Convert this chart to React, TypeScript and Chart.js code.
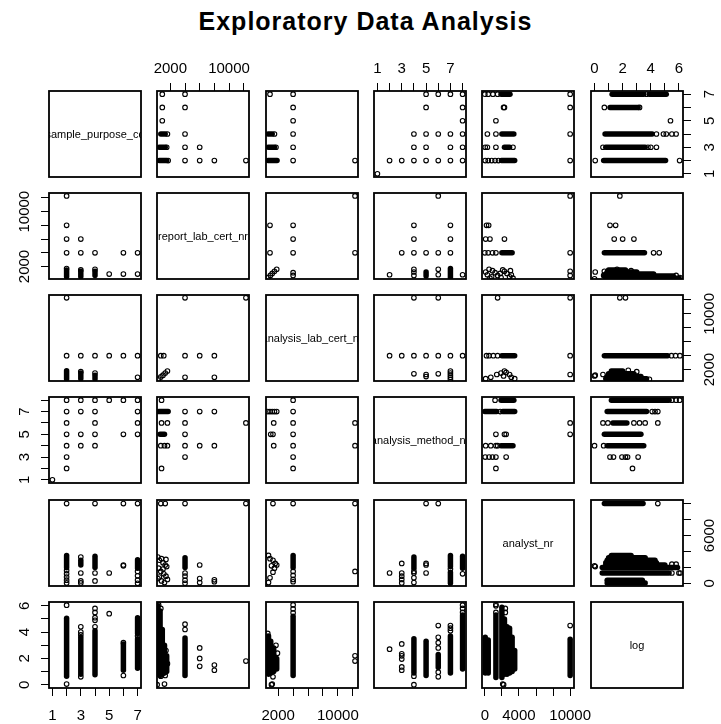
import React, { useEffect, useRef } from 'react';
import { Chart, registerables } from 'chart.js';

Chart.register(...registerables);

const FONT = '"Liberation Sans", Arial, Helvetica, sans-serif';
Chart.defaults.font.family = FONT;

// ---------- variables ----------
const VAR_NAMES = [
  'sample_purpose_cd',
  'report_lab_cert_nr',
  'analysis_lab_cert_nr',
  'analysis_method_nr',
  'analyst_nr',
  'log',
];
const AXIS_MIN = [0.76, 180, 365, 0.72, -330, -0.25];
const AXIS_MAX = [7.24, 12720, 12700, 8.28, 10450, 6.29];
const TICKS = [
  [1, 2, 3, 4, 5, 6, 7],
  [2000, 4000, 6000, 8000, 10000, 12000],
  [2000, 4000, 6000, 8000, 10000, 12000],
  [1, 2, 3, 4, 5, 6, 7, 8],
  [0, 2000, 4000, 6000, 8000, 10000],
  [0, 1, 2, 3, 4, 5, 6],
];
// labels shown on the column (x) axes and on the row (y) axes
const X_LABELS = [[1, 3, 5, 7], [2000, 10000], [2000, 10000], [1, 3, 5, 7], [0, 4000, 10000], [0, 2, 4, 6]];
const Y_LABELS = [[1, 3, 5, 7], [2000, 10000], [2000, 10000], [1, 3, 5, 7], [0, 6000], [0, 2, 4, 6]];

type P = [number, number];
type S = [P, P];

// ---------- pair data: [value of first var, value of second var] ----------
// sample_purpose_cd vs report_lab_cert_nr
const pts12: P[] = [[2, 12300], [2, 8000], [2, 6000], [2, 4000], [3, 6000], [3, 4000], [4, 4000], [5, 900], [6, 4000], [6, 900], [7, 4000], [7, 900], [2, 1700], [3, 1500], [4, 1600]];
const seg12: S[] = [[[2, 500], [2, 1500]], [[3, 500], [3, 1300]], [[4, 700], [4, 1300]]];

// sample_purpose_cd vs analysis_lab_cert_nr
const pts13: P[] = [[2, 12300], [2, 4000], [3, 4000], [4, 4000], [5, 4000], [6, 4000], [7, 4000], [7, 900], [4, 1500], [3, 1700]];
const seg13: S[] = [[[2, 650], [2, 1850]], [[3, 700], [3, 1500]], [[4, 650], [4, 1200]]];

// sample_purpose_cd vs analysis_method_nr
const pts14: P[] = [[7, 8], [7, 7], [7, 6], [7, 5], [6, 8], [6, 5], [5, 8], [4, 8], [4, 7], [4, 6], [4, 5], [4, 4], [3, 8], [3, 7], [3, 5], [3, 4], [2, 8], [2, 7], [2, 6], [2, 5], [2, 4], [2, 3], [2, 2], [1, 1]];
const seg14: S[] = [];

// sample_purpose_cd vs analyst_nr
const pts15: P[] = [[2, 10000], [2, 1600], [2, 1200], [2, 800], [2, 400], [2, 50], [3, 3300], [3, 1300], [3, 300], [3, 50], [4, 10000], [4, 1300], [4, 300], [5, 1300], [6, 2300], [6, 2200], [6, 10000], [7, 10000], [7, 1500], [7, 950], [7, 400], [7, 0]];
const seg15: S[] = [[[2, 1950], [2, 3500]], [[3, 2300], [3, 2900]], [[4, 2000], [4, 3400]], [[7, 1900], [7, 2950]]];

// sample_purpose_cd vs log
const pts16: P[] = [[2, 6.05], [2, 0.05], [3, 4.0], [3, 4.4], [3, 0.6], [3, 3.8], [4, 4.4], [4, 4.9], [4, 5.1], [4, 5.5], [4, 5.8], [5, 5.4], [6, 0.7], [6, 3.2], [7, 3.7]];
const seg16: S[] = [[[2, 0.65], [2, 5.05]], [[3, 0.8], [3, 3.6]], [[4, 0.75], [4, 4.1]], [[6, 1.1], [6, 3.1]], [[7, 1.25], [7, 3.5]], [[7, 3.9], [7, 5.1]]];

// report_lab_cert_nr vs analysis_lab_cert_nr
const pts23: P[] = [[12300, 12300], [8000, 900], [8000, 4000], [6000, 4000], [4000, 900], [4000, 4000], [4000, 12300], [700, 4000], [1100, 4000], [400, 650], [700, 950], [1000, 1200], [1300, 1500], [1600, 1800]];
const seg23: S[] = [];

// report_lab_cert_nr vs analysis_method_nr
const pts24: P[] = [[12300, 6], [8000, 4], [8000, 7], [6000, 4], [6000, 7], [4000, 3], [4000, 4], [4000, 5], [4000, 6], [4000, 7], [800, 2], [800, 8], [800, 6], [1600, 6], [700, 4], [1200, 4], [1600, 4]];
const seg24: S[] = [[[400, 7], [1700, 7]], [[600, 5], [1200, 5]]];

// report_lab_cert_nr vs analyst_nr
const pts25: P[] = [[12300, 10000], [8000, 200], [8000, 450], [6000, 100], [6000, 600], [6000, 2300], [4000, 10000], [4000, 1300], [4000, 900], [4000, 400], [4000, 0], [700, 10000], [1300, 10000], [300, 3300], [500, 2900], [800, 3100], [1000, 2600], [1300, 2300], [1500, 2100], [400, 1900], [700, 1500], [1100, 1200], [1400, 900], [300, 600], [800, 300], [1200, 100], [1600, 500], [500, 800], [1000, 1800], [1400, 3000]];
const seg25: S[] = [[[4000, 2000], [4000, 3200]]];

// report_lab_cert_nr vs log
const pts26: P[] = [[12300, 1.8], [8000, 1.1], [8000, 1.5], [6000, 1.4], [6000, 2.0], [6000, 2.8], [4000, 4.2], [4000, 4.6], [200, 0.0], [700, 0.65], [1200, 0.05], [400, 6.07], [1300, 0.7], [1600, 1.6], [1400, 2.6], [700, 5.8]];
const seg26: S[] = [[[300, 0.8], [300, 6.0]], [[600, 0.7], [600, 5.6]], [[900, 0.8], [900, 4.2]], [[1200, 0.9], [1200, 3.0]], [[1500, 1.0], [1500, 2.2]], [[4000, 0.7], [4000, 3.55]]];

// analysis_lab_cert_nr vs analysis_method_nr
const pts34: P[] = [[12300, 4], [12300, 6], [4000, 2], [4000, 3], [4000, 4], [4000, 5], [4000, 6], [4000, 7], [4000, 8], [1400, 4], [1400, 6], [1000, 5], [1300, 5], [600, 7], [900, 7], [1200, 7], [1500, 7], [1800, 7]];
const seg34: S[] = [];

// analysis_lab_cert_nr vs analyst_nr
const pts35: P[] = [[1300, 10000], [12300, 10000], [12300, 1500], [4000, 10000], [4000, 1500], [4000, 1000], [4000, 500], [4000, 200], [700, 3500], [900, 3100], [1300, 2900], [1600, 2500], [1100, 2200], [1500, 1900], [1300, 1400], [900, 700], [700, 100], [1800, 2300]];
const seg35: S[] = [[[4000, 2000], [4000, 3500]]];

// analysis_lab_cert_nr vs log
const pts36: P[] = [[12300, 1.8], [12300, 2.2], [1200, 0.05], [1100, 0.0], [1300, 0.6], [1700, 3.0], [1900, 2.4], [600, 3.9], [4000, 5.47], [4000, 5.76], [4000, 6.07]];
const seg36: S[] = [[[4000, 0.7], [4000, 5.2]], [[700, 0.8], [700, 3.7]], [[1000, 0.9], [1000, 3.3]], [[1400, 1.0], [1400, 2.8]], [[1800, 1.2], [1800, 2.0]]];

// analysis_method_nr vs analyst_nr
const pts45: P[] = [[5, 10000], [6, 10000], [2, 1300], [3, 50], [3, 500], [3, 900], [3, 2500], [3, 1300], [4, 100], [4, 1300], [4, 700], [5, 1300], [5, 2300], [5, 2500], [8, 1200], [7, 1800], [4, 1500]];
const seg45: S[] = [[[8, 1900], [8, 3400]], [[7, 0], [7, 1400]], [[7, 2100], [7, 3500]], [[4, 1900], [4, 3300]]];

// analysis_method_nr vs log
const pts46: P[] = [[8, 5.5], [8, 5.8], [8, 6.05], [7, 4.1], [7, 4.3], [7, 4.5], [6, 0.6], [6, 0.95], [6, 2.8], [6, 3.2], [6, 3.6], [6, 4.5], [4, 0.0], [4, 0.65], [3, 1.1], [3, 1.35], [3, 1.95], [3, 2.2], [3, 2.35], [3, 3.1], [2, 2.7]];
const seg46: S[] = [[[8, 1.2], [8, 5.3]], [[7, 0.9], [7, 3.7]], [[6, 1.3], [6, 2.3]], [[5, 0.7], [5, 3.3]], [[4, 0.9], [4, 3.5]]];

// analyst_nr vs log
const pts56: P[] = [[10000, 4.5], [1300, 6.0], [1300, 6.1], [1300, 5.5], [2200, 0.0], [2400, 5.5], [2400, 5.8], [2100, 0.05]];
const seg56: S[] = [[[50, 0.9], [50, 3.6]], [[400, 0.9], [400, 3.4]], [[1300, 0.55], [1300, 5.3]], [[2000, 0.55], [2000, 5.9]], [[2300, 0.8], [2300, 5.0]], [[2600, 0.8], [2600, 4.4]], [[2900, 0.9], [2900, 4.3]], [[3200, 1.0], [3200, 3.6]], [[3500, 1.2], [3500, 2.6]], [[10000, 0.7], [10000, 3.45]]];

const PAIRS = [
  { a: 0, b: 1, pts: pts12, segs: seg12 },
  { a: 0, b: 2, pts: pts13, segs: seg13 },
  { a: 0, b: 3, pts: pts14, segs: seg14 },
  { a: 0, b: 4, pts: pts15, segs: seg15 },
  { a: 0, b: 5, pts: pts16, segs: seg16 },
  { a: 1, b: 2, pts: pts23, segs: seg23 },
  { a: 1, b: 3, pts: pts24, segs: seg24 },
  { a: 1, b: 4, pts: pts25, segs: seg25 },
  { a: 1, b: 5, pts: pts26, segs: seg26 },
  { a: 2, b: 3, pts: pts34, segs: seg34 },
  { a: 2, b: 4, pts: pts35, segs: seg35 },
  { a: 2, b: 5, pts: pts36, segs: seg36 },
  { a: 3, b: 4, pts: pts45, segs: seg45 },
  { a: 3, b: 5, pts: pts46, segs: seg46 },
  { a: 4, b: 5, pts: pts56, segs: seg56 },
];

// ---------- layout ----------
const COL_LEFT = [49, 157, 266, 374, 482, 591];
const ROW_TOP = [91, 193, 295, 397, 500, 602];
const BOX_W = 92;
const BOX_H = 86;
const M = 60;
const TICK_LEN = 8;
const TICK_FONT = 15;

function widest(labels: number[]): number {
  const ctx = document.createElement('canvas').getContext('2d')!;
  ctx.font = `${TICK_FONT}px ${FONT}`;
  return Math.max(...labels.map((l) => ctx.measureText(String(l)).width));
}

const boxPlugin = {
  id: 'panelBox',
  afterDraw(chart: any) {
    const { ctx, chartArea: a } = chart;
    ctx.save();
    ctx.strokeStyle = '#000';
    ctx.lineWidth = 1.8;
    ctx.strokeRect(a.left, a.top, a.right - a.left, a.bottom - a.top);
    ctx.restore();
  },
};

function Panel({ r, c }: { r: number; c: number }) {
  const ref = useRef<HTMLCanvasElement>(null);
  useEffect(() => {
    const canvas = ref.current!;
    const datasets: any[] = [];
    if (r !== c) {
      const a = Math.min(r, c);
      const b = Math.max(r, c);
      const pair = PAIRS.find((p) => p.a === a && p.b === b)!;
      const pick = (p: P) => ({ x: c === a ? p[0] : p[1], y: r === a ? p[0] : p[1] });
      pair.segs.forEach((s) =>
        datasets.push({
          data: s.map(pick),
          showLine: true,
          borderColor: '#000',
          borderWidth: 5.5,
          borderCapStyle: 'round',
          pointRadius: 0,
          pointHoverRadius: 0,
        })
      );
      datasets.push({
        data: pair.pts.map(pick),
        showLine: false,
        pointRadius: 2.3,
        pointHoverRadius: 2.3,
        pointBorderWidth: 1.1,
        pointBorderColor: '#000',
        pointBackgroundColor: 'rgba(0,0,0,0)',
      });
    }
    const showX = (r === 0 && c % 2 === 1) || (r === 5 && c % 2 === 0);
    const showY = (c === 0 && r % 2 === 1) || (c === 5 && r % 2 === 0);
    const xTop = r === 0;
    const yLeft = c === 0;
    const yDist = yLeft ? 24 : 27;
    const yPad = yDist - TICK_LEN - widest(Y_LABELS[r]) / 2;

    const padding = {
      top: showX && xTop ? 0 : M,
      bottom: showX && !xTop ? 0 : M,
      left: showY && yLeft ? 0 : M,
      right: showY && !yLeft ? 0 : M,
    };

    const chart = new Chart(canvas, {
      type: 'scatter',
      data: { datasets },
      plugins: [boxPlugin],
      options: {
        animation: false,
        responsive: false,
        events: [],
        layout: { padding },
        plugins: { legend: { display: false }, tooltip: { enabled: false }, title: { display: false } },
        scales: {
          x: {
            type: 'linear',
            min: AXIS_MIN[c],
            max: AXIS_MAX[c],
            display: showX,
            position: xTop ? 'top' : 'bottom',
            afterBuildTicks: (s: any) => {
              s.ticks = TICKS[c].map((v) => ({ value: v }));
            },
            afterFit: (s: any) => {
              s.height = showX ? M : 0;
            },
            grid: { display: true, drawOnChartArea: false, drawTicks: true, tickLength: TICK_LEN, color: '#000', lineWidth: 1 },
            border: { display: false },
            ticks: {
              autoSkip: false,
              minRotation: 0,
              maxRotation: 0,
              color: '#000',
              font: { size: TICK_FONT },
              padding: xTop ? 5 : 11,
              callback: (v: any) => (X_LABELS[c].includes(Number(v)) ? String(v) : ''),
            },
          },
          y: {
            type: 'linear',
            min: AXIS_MIN[r],
            max: AXIS_MAX[r],
            display: showY,
            position: yLeft ? 'left' : 'right',
            afterBuildTicks: (s: any) => {
              s.ticks = TICKS[r].map((v) => ({ value: v }));
            },
            afterFit: (s: any) => {
              s.width = showY ? M : 0;
            },
            grid: { display: true, drawOnChartArea: false, drawTicks: true, tickLength: TICK_LEN, color: '#000', lineWidth: 1 },
            border: { display: false },
            ticks: {
              autoSkip: false,
              minRotation: 90,
              maxRotation: 90,
              crossAlign: 'center',
              color: '#000',
              font: { size: TICK_FONT },
              padding: yPad,
              callback: (v: any) => (Y_LABELS[r].includes(Number(v)) ? String(v) : ''),
            },
          },
        },
      } as any,
    });
    return () => chart.destroy();
  }, [r, c]);

  return (
    <canvas
      ref={ref}
      width={BOX_W + 2 * M}
      height={BOX_H + 2 * M}
      style={{
        position: 'absolute',
        left: COL_LEFT[c] - M,
        top: ROW_TOP[r] - M,
        width: BOX_W + 2 * M,
        height: BOX_H + 2 * M,
      }}
    />
  );
}

export default function App() {
  const panels: React.ReactNode[] = [];
  for (let r = 0; r < 6; r++) {
    for (let c = 0; c < 6; c++) {
      panels.push(<Panel key={`${r}-${c}`} r={r} c={c} />);
    }
  }
  return (
    <div
      style={{
        position: 'absolute',
        left: 0,
        top: 0,
        width: 721,
        height: 724,
        background: '#fff',
        overflow: 'hidden',
        fontFamily: FONT,
      }}
    >
      <div
        style={{
          position: 'absolute',
          left: 0,
          top: 6,
          width: 731,
          textAlign: 'center',
          fontSize: 25,
          lineHeight: '30px',
          fontWeight: 'bold',
          letterSpacing: 1,
          color: '#000',
        }}
      >
        Exploratory Data Analysis
      </div>
      {panels}
      {VAR_NAMES.map((name, i) => (
        <div
          key={name}
          style={{
            position: 'absolute',
            left: COL_LEFT[i],
            top: ROW_TOP[i],
            width: BOX_W,
            height: BOX_H,
            overflow: 'hidden',
            display: 'flex',
            alignItems: 'center',
            justifyContent: 'center',
            fontSize: 11,
            color: '#000',
            whiteSpace: 'nowrap',
          }}
        >
          <span>{name}</span>
        </div>
      ))}
    </div>
  );
}
